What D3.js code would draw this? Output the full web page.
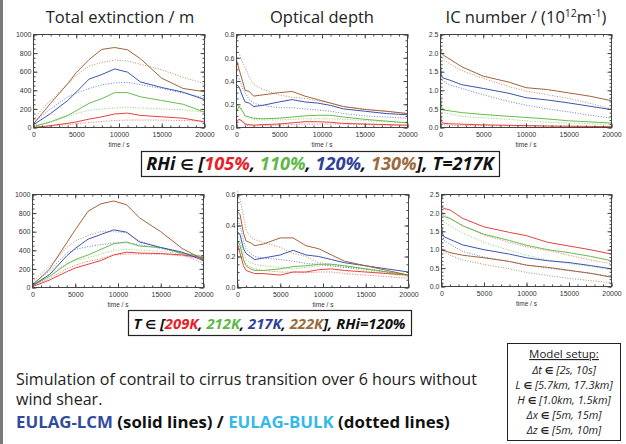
<!DOCTYPE html>
<html>
<head>
<meta charset="utf-8">
<script src="https://cdn.jsdelivr.net/npm/d3@7"></script>
<style>
  body { margin: 0; background: #fff; }
  svg { display: block; }
  .tick text { font-family: "Liberation Sans", Arial, sans-serif; font-size: 7px; fill: #333; }
  .axis path, .axis line { stroke: #444; }
</style>
</head>
<body>
<svg id="chart" width="626" height="444"></svg>
<script>
// time grids (s) used by each quantity
var extTime = [0, 1000, 2000, 4000, 5000, 6500, 8000, 9500, 11000, 12500, 15000, 17500, 20000],
    odTime = [0, 300, 700, 1000, 1500, 2000, 3000, 5000, 6500, 8000, 9500, 11000, 12500, 15000, 17500, 20000],
    icTime = [0, 100, 300, 1000, 2500, 5000, 8000, 10000, 12500, 15000, 17500, 20000];

// order of each list: red, green, blue, brown
var seriesColors = ["#e8413c", "#69bd4b", "#3a55b0", "#a2643c"];

// top row: RHi in [105%, 110%, 120%, 130%], T=217K
var topExtSolid = [
    [0, 10, 20, 45, 60, 90, 115, 145, 155, 130, 115, 100, 60],
    [10, 35, 60, 130, 180, 260, 310, 375, 375, 330, 290, 250, 165],
    [30, 90, 150, 290, 380, 520, 570, 630, 595, 490, 430, 380, 300],
    [40, 150, 260, 470, 590, 730, 840, 860, 835, 740, 530, 420, 385]
];
var topExtDotted = [
    [5, 10, 15, 30, 40, 55, 65, 75, 80, 80, 80, 75, 70],
    [20, 40, 60, 120, 150, 185, 200, 210, 220, 210, 200, 190, 165],
    [50, 130, 200, 330, 370, 420, 460, 480, 485, 460, 420, 370, 320],
    [80, 200, 290, 470, 560, 660, 700, 725, 715, 680, 620, 540, 470]
];
var topOdSolid = [
    [.05, .07, .055, .03, .025, .02, .025, .03, .04, .05, .05, .045, .035, .03, .025, .02],
    [.14, .18, .14, .10, .09, .08, .075, .08, .09, .10, .105, .105, .09, .07, .055, .04],
    [.37, .35, .27, .22, .21, .18, .19, .22, .24, .22, .21, .19, .16, .14, .12, .11],
    [.58, .50, .40, .32, .31, .27, .28, .30, .31, .27, .24, .21, .18, .155, .14, .12]
];
var topOdDotted = [
    [.06, .07, .05, .02, .015, .015, .015, .02, .025, .03, .03, .03, .03, .025, .02, .015],
    [.16, .19, .15, .10, .08, .07, .065, .065, .07, .075, .075, .075, .07, .06, .05, .04],
    [.43, .42, .34, .30, .24, .21, .19, .17, .17, .16, .15, .14, .12, .10, .09, .08],
    [.66, .64, .56, .52, .43, .37, .33, .28, .26, .25, .23, .21, .18, .16, .14, .12]
];
var topIcSolid = [
    [0.4, 0.15, 0.12, 0.10, 0.09, 0.07, 0.06, 0.05, 0.04, 0.035, 0.03, 0.02],
    [0.95, 0.55, 0.47, 0.45, 0.40, 0.35, 0.30, 0.27, 0.23, 0.18, 0.15, 0.12],
    [1.7, 1.4, 1.33, 1.28, 1.15, 1.05, 0.92, 0.80, 0.74, 0.66, 0.57, 0.48],
    [2.12, 2.02, 1.95, 1.85, 1.63, 1.38, 1.22, 1.07, 1.02, 0.93, 0.84, 0.72]
];
var topIcDotted = [
    [0.3, 0.10, 0.08, 0.06, 0.055, 0.05, 0.045, 0.04, 0.035, 0.03, 0.025, 0.02],
    [0.9, 0.45, 0.40, 0.37, 0.30, 0.26, 0.22, 0.18, 0.14, 0.12, 0.10, 0.08],
    [1.55, 1.3, 1.25, 1.15, 1.05, 0.88, 0.70, 0.60, 0.50, 0.42, 0.33, 0.25],
    [2.0, 1.92, 1.85, 1.72, 1.53, 1.32, 1.10, 0.98, 0.88, 0.78, 0.65, 0.50]
];

// bottom row: T in [209K, 212K, 217K, 222K], RHi=120%
var botExtSolid = [
    [10, 45, 80, 170, 210, 250, 290, 350, 380, 370, 365, 350, 320],
    [20, 70, 120, 250, 300, 350, 410, 470, 490, 445, 430, 370, 330],
    [20, 80, 140, 340, 420, 520, 570, 620, 595, 490, 430, 380, 290],
    [30, 110, 200, 480, 620, 820, 900, 930, 890, 750, 600, 420, 300]
];
var botExtDotted = [
    [15, 55, 100, 200, 240, 280, 310, 350, 360, 360, 360, 340, 310],
    [30, 85, 140, 260, 290, 320, 360, 400, 410, 400, 390, 360, 340],
    [40, 110, 180, 370, 410, 440, 460, 480, 480, 460, 420, 370, 310],
    [60, 150, 230, 430, 500, 560, 600, 600, 590, 500, 430, 360, 260]
];
var botOdSolid = [
    [.28, .22, .14, .11, .10, .09, .09, .08, .10, .10, .115, .12, .11, .10, .09, .08],
    [.30, .27, .18, .14, .12, .11, .11, .12, .135, .14, .15, .15, .14, .12, .10, .08],
    [.36, .34, .25, .22, .20, .18, .19, .21, .24, .21, .20, .18, .16, .14, .12, .10],
    [.49, .47, .35, .30, .29, .27, .28, .32, .32, .27, .25, .21, .17, .14, .11, .08]
];
var botOdDotted = [
    [.30, .26, .18, .15, .13, .12, .11, .10, .10, .095, .10, .10, .09, .08, .07, .06],
    [.34, .30, .22, .18, .16, .15, .14, .13, .12, .13, .14, .14, .13, .11, .09, .07],
    [.43, .40, .30, .25, .22, .20, .19, .18, .17, .155, .15, .14, .13, .12, .10, .08],
    [.62, .57, .46, .37, .33, .31, .29, .26, .22, .20, .16, .15, .14, .12, .10, .08]
];
var botIcSolid = [
    [2.2, 2.15, 2.12, 2.08, 1.85, 1.62, 1.47, 1.38, 1.2, 1.1, 1.0, 0.88],
    [2.0, 1.95, 1.9, 1.85, 1.65, 1.42, 1.25, 1.12, 1.0, 0.92, 0.82, 0.7],
    [1.7, 1.45, 1.35, 1.28, 1.13, 1.0, 0.88, 0.78, 0.70, 0.65, 0.57, 0.48],
    [1.05, 1.0, 0.98, 0.92, 0.85, 0.78, 0.68, 0.58, 0.52, 0.44, 0.36, 0.25]
];
var botIcDotted = [
    [2.1, 2.0, 1.95, 1.85, 1.65, 1.40, 1.20, 1.08, 0.98, 0.85, 0.72, 0.62],
    [1.95, 1.8, 1.75, 1.65, 1.45, 1.20, 0.98, 0.85, 0.72, 0.62, 0.55, 0.45],
    [1.6, 1.4, 1.25, 1.15, 0.95, 0.80, 0.68, 0.58, 0.50, 0.43, 0.36, 0.28],
    [1.0, 0.97, 0.95, 0.85, 0.72, 0.60, 0.48, 0.38, 0.30, 0.22, 0.16, 0.10]
];

var svg = d3.select("#chart");

// grey bar on the left edge of the slide
svg.append("rect").attr("x", 0).attr("y", 0).attr("width", 3).attr("height", 444).attr("fill", "#7a7a7a");

function drawPanel(cfg) {
    var x = d3.scaleLinear().domain([0, 20000]).range([cfg.x0, cfg.x1]),
        y = d3.scaleLinear().domain([0, cfg.yMax]).range([cfg.y1, cfg.y0]),
        g = svg.append("g"),
        yMajor = d3.range(0, cfg.yMax + cfg.yStep / 2, cfg.yStep),
        yMinor = d3.range(0, cfg.yMax + cfg.yMinorStep / 2, cfg.yMinorStep),
        xMinor = d3.range(0, 20001, 1000);

    // lines first, frame on top
    var line = d3.line()
        .x(function (d) { return x(d[0]); })
        .y(function (d) { return y(d[1]); });

    cfg.dotted.forEach(function (vals, i) {
        g.append("path")
            .datum(cfg.time.map(function (t, k) { return [t, vals[k]]; }))
            .attr("d", line)
            .attr("fill", "none")
            .attr("stroke", seriesColors[i])
            .attr("stroke-opacity", 0.75)
            .attr("stroke-width", 1)
            .attr("stroke-dasharray", "1,1.6");
    });
    cfg.solid.forEach(function (vals, i) {
        g.append("path")
            .datum(cfg.time.map(function (t, k) { return [t, vals[k]]; }))
            .attr("d", line)
            .attr("fill", "none")
            .attr("stroke", seriesColors[i])
            .attr("stroke-width", 1);
    });

    // minor ticks on all sides
    g.append("g").attr("class", "axis").attr("transform", "translate(0," + cfg.y1 + ")")
        .call(d3.axisBottom(x).tickValues(xMinor).tickSize(-2).tickFormat(""));
    g.append("g").attr("class", "axis").attr("transform", "translate(0," + cfg.y0 + ")")
        .call(d3.axisTop(x).tickValues(xMinor).tickSize(-2).tickFormat(""));
    g.append("g").attr("class", "axis").attr("transform", "translate(" + cfg.x0 + ",0)")
        .call(d3.axisLeft(y).tickValues(yMinor).tickSize(-2).tickFormat(""));
    g.append("g").attr("class", "axis").attr("transform", "translate(" + cfg.x1 + ",0)")
        .call(d3.axisRight(y).tickValues(yMinor).tickSize(-2).tickFormat(""));

    // major ticks + labels
    g.append("g").attr("class", "axis").attr("transform", "translate(0," + cfg.y1 + ")")
        .call(d3.axisBottom(x).tickValues([0, 5000, 10000, 15000, 20000]).tickSize(-4).tickPadding(5).tickFormat(d3.format("d")));
    g.append("g").attr("class", "axis").attr("transform", "translate(0," + cfg.y0 + ")")
        .call(d3.axisTop(x).tickValues([0, 5000, 10000, 15000, 20000]).tickSize(-4).tickFormat(""));
    g.append("g").attr("class", "axis").attr("transform", "translate(" + cfg.x0 + ",0)")
        .call(d3.axisLeft(y).tickValues(yMajor).tickSize(-4).tickPadding(2).tickFormat(d3.format(cfg.fmt)));
    g.append("g").attr("class", "axis").attr("transform", "translate(" + cfg.x1 + ",0)")
        .call(d3.axisRight(y).tickValues(yMajor).tickSize(-4).tickFormat(""));
    g.selectAll(".axis .domain").remove();

    g.append("rect")
        .attr("x", cfg.x0).attr("y", cfg.y0)
        .attr("width", cfg.x1 - cfg.x0).attr("height", cfg.y1 - cfg.y0)
        .attr("fill", "none").attr("stroke", "#444").attr("stroke-width", 1);

    g.append("text")
        .attr("x", (cfg.x0 + cfg.x1) / 2).attr("y", cfg.y1 + 19)
        .attr("text-anchor", "middle")
        .style("font-family", "Liberation Sans, Arial, sans-serif")
        .style("font-size", "6.5px").attr("fill", "#333")
        .text("time  /  s");
}

var panels = [
    {x0: 33.5, x1: 204.5, y0: 34.5, y1: 127.5, yMax: 1000, yStep: 200, yMinorStep: 50, fmt: "d", time: extTime, solid: topExtSolid, dotted: topExtDotted},
    {x0: 236.5, x1: 407.5, y0: 34.5, y1: 127.5, yMax: 0.8, yStep: 0.2, yMinorStep: 0.05, fmt: ".1f", time: odTime, solid: topOdSolid, dotted: topOdDotted},
    {x0: 440.5, x1: 611.5, y0: 34.5, y1: 127.5, yMax: 2.5, yStep: 0.5, yMinorStep: 0.1, fmt: ".1f", time: icTime, solid: topIcSolid, dotted: topIcDotted},
    {x0: 32.5, x1: 203.5, y0: 194.5, y1: 287.5, yMax: 1000, yStep: 200, yMinorStep: 50, fmt: "d", time: extTime, solid: botExtSolid, dotted: botExtDotted},
    {x0: 237.5, x1: 408.5, y0: 194.5, y1: 287.5, yMax: 0.6, yStep: 0.2, yMinorStep: 0.05, fmt: ".1f", time: odTime, solid: botOdSolid, dotted: botOdDotted},
    {x0: 441.5, x1: 611.5, y0: 194.5, y1: 286.5, yMax: 2.5, yStep: 0.5, yMinorStep: 0.1, fmt: ".1f", time: icTime, solid: botIcSolid, dotted: botIcDotted}
];
panels.forEach(drawPanel);

// scale a text's font size so that its natural width is the wanted one
function fitWidth(sel, wanted) {
    var fs = parseFloat(sel.style("font-size")),
        w = sel.node().getComputedTextLength();
    sel.style("font-size", (fs * wanted / w).toFixed(2) + "px");
}

// column titles
var titleFont = "'Open Sans', 'Noto Sans', sans-serif",
    symFont = "'DejaVu Sans', sans-serif";
function title(xc, txt) {
    return svg.append("text").attr("x", xc).attr("y", 23).attr("text-anchor", "middle")
        .style("font-family", titleFont).style("font-size", "16.5px").attr("fill", "#222").text(txt);
}
title(120, "Total extinction / m");
title(322, "Optical depth");
var ic = svg.append("text").attr("x", 526).attr("y", 23).attr("text-anchor", "middle")
    .style("font-family", titleFont).style("font-size", "16.5px").attr("fill", "#222");
ic.append("tspan").text("IC number / (10");
ic.append("tspan").attr("dy", -6).style("font-size", "10.5px").text("12");
ic.append("tspan").attr("dy", 6).text("m");
ic.append("tspan").attr("dy", -6).style("font-size", "10.5px").text("-1");
ic.append("tspan").attr("dy", 6).text(")");

// parameter boxes
var rhiLabels = ["105%", "110%", "120%", "130%"],
    tempLabels = ["209K", "212K", "217K", "222K"],
    boxColors = ["#e8202a", "#5cb847", "#2f3f9c", "#9a6a3c"];

function paramBox(bx, by, bw, bh, textW, pre, labels, post) {
    svg.append("rect").attr("x", bx + 0.5).attr("y", by + 0.5).attr("width", bw).attr("height", bh)
        .attr("fill", "#fff").attr("stroke", "#222").attr("stroke-width", 1.2);
    var t = svg.append("text").attr("x", bx + bw / 2).attr("y", by + bh - 6).attr("text-anchor", "middle")
        .style("font-family", titleFont).style("font-size", "17px")
        .style("font-weight", "bold").style("font-style", "italic").attr("fill", "#111");
    t.append("tspan").text(pre);
    t.append("tspan").style("font-family", symFont).style("font-size", "0.82em").text("\u2208");
    t.append("tspan").text(" [");
    labels.forEach(function (l, i) {
        t.append("tspan").attr("fill", boxColors[i]).text(l);
        if (i < labels.length - 1) t.append("tspan").text(", ");
    });
    t.append("tspan").text(post);
    fitWidth(t, textW);
}
paramBox(141, 151, 358, 25, 348, "RHi ", rhiLabels, "], T=217K");
paramBox(128, 310, 283, 25, 272, "T ", tempLabels, "], RHi=120%");

// description text
var d1 = svg.append("text").attr("x", 16).attr("y", 385)
    .style("font-family", titleFont).style("font-size", "16px").attr("fill", "#222")
    .text("Simulation of contrail to cirrus transition over 6 hours without");
fitWidth(d1, 461);
svg.append("text").attr("x", 16).attr("y", 405)
    .style("font-family", titleFont).style("font-size", d1.style("font-size")).attr("fill", "#222")
    .text("wind shear.");
var leg = svg.append("text").attr("x", 16).attr("y", 428)
    .style("font-family", titleFont).style("font-size", "16.5px").style("font-weight", "bold").attr("fill", "#111");
leg.append("tspan").attr("fill", "#2f4c9e").text("EULAG-LCM");
leg.append("tspan").text(" (solid lines) / ");
leg.append("tspan").attr("fill", "#35b8ea").text("EULAG-BULK");
leg.append("tspan").text(" (dotted lines)");
fitWidth(leg, 434);

// model setup box
var setupLines = [["\u0394t", "[2s, 10s]"], ["L", "[5.7km, 17.3km]"], ["H", "[1.0km, 1.5km]"],
    ["\u0394x", "[5m, 15m]"], ["\u0394z", "[5m, 10m]"]];
svg.append("rect").attr("x", 507.5).attr("y", 343.5).attr("width", 113).attr("height", 97)
    .attr("fill", "#fff").attr("stroke", "#222").attr("stroke-width", 1);
svg.append("text").attr("x", 564).attr("y", 358).attr("text-anchor", "middle")
    .style("font-family", titleFont).style("font-size", "11.5px").style("text-decoration", "underline")
    .attr("fill", "#222").text("Model setup:");
setupLines.forEach(function (l, i) {
    var t = svg.append("text").attr("x", 564).attr("y", 373.5 + i * 15.2).attr("text-anchor", "middle")
        .style("font-family", titleFont).style("font-size", "11px").style("font-style", "italic").attr("fill", "#222");
    t.append("tspan").text(l[0] + " ");
    t.append("tspan").style("font-family", symFont).style("font-weight", "bold").style("font-size", "9.5px").text("\u2208");
    t.append("tspan").text(" " + l[1]);
});
</script>
</body>
</html>
